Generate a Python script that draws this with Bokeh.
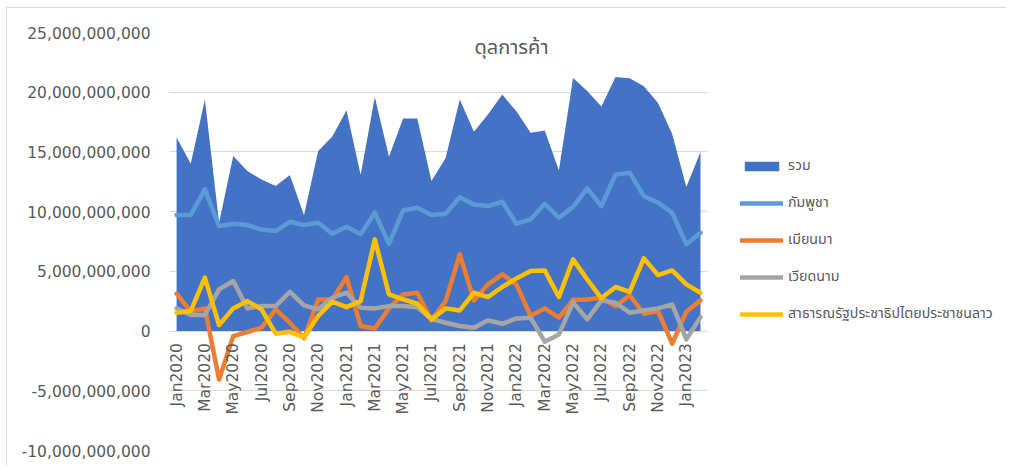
import math
from bokeh.plotting import figure
from bokeh.models import (ColumnDataSource, Range1d, FixedTicker, NumeralTickFormatter,
                          Legend, LegendItem, Label, BoxAnnotation)
from bokeh.core.properties import value
from bokeh.embed import file_html
from bokeh.resources import INLINE

# ---- data (values in billions of baht) ----
months = []
for yr in (2020, 2021, 2022, 2023):
    for m in ["Jan", "Feb", "Mar", "Apr", "May", "Jun", "Jul", "Aug", "Sep", "Oct", "Nov", "Dec"]:
        months.append(f"{m}{yr}")
months = months[:38]

total_bn = [16.2, 14.0, 19.4, 9.07, 14.66, 13.4, 12.7, 12.14, 13.07, 9.7, 15.07, 16.3,
            18.5, 13.07, 19.6, 14.6, 17.8, 17.8, 12.56, 14.5, 19.4, 16.7, 18.15, 19.8,
            18.4, 16.6, 16.8, 13.45, 21.2, 20.1, 18.8, 21.27, 21.16, 20.5, 19.1, 16.5,
            12.06, 15.0]
cambodia_bn = [9.72, 9.72, 11.87, 8.79, 8.99, 8.88, 8.5, 8.37, 9.15, 8.88, 9.07, 8.15,
               8.74, 8.1, 9.91, 7.31, 10.1, 10.33, 9.72, 9.83, 11.2, 10.6, 10.47, 10.83,
               8.99, 9.35, 10.66, 9.49, 10.4, 11.95, 10.47, 13.1, 13.26, 11.3, 10.75, 9.91,
               7.26, 8.23]
myanmar_bn = [3.13, 1.62, 1.9, -4.05, -0.42, -0.08, 0.28, 1.82, 0.7, -0.6, 2.65, 2.65,
              4.52, 0.42, 0.22, 1.9, 3.07, 3.21, 0.9, 2.5, 6.42, 2.57, 3.91, 4.75,
              3.91, 1.26, 1.9, 1.12, 2.62, 2.65, 2.79, 2.09, 3.0, 1.45, 1.68, -1.06,
              1.62, 2.57]
vietnam_bn = [1.9, 1.34, 1.34, 3.49, 4.19, 1.9, 2.09, 2.09, 3.29, 2.15, 1.82, 2.79,
              3.21, 1.95, 1.9, 2.09, 2.09, 2.0, 1.0, 0.7, 0.42, 0.28, 0.9, 0.61,
              1.06, 1.12, -0.89, -0.28, 2.4, 0.98, 2.57, 2.37, 1.54, 1.73, 1.9, 2.23,
              -0.7, 1.17]
laos_bn = [1.54, 1.68, 4.47, 0.5, 1.9, 2.51, 1.82, -0.22, -0.06, -0.53, 1.26, 2.46,
           2.0, 2.51, 7.68, 3.07, 2.65, 2.29, 0.98, 1.9, 1.73, 3.21, 2.85, 3.69,
           4.41, 5.03, 5.08, 2.85, 6.0, 4.33, 2.74, 3.69, 3.29, 6.09, 4.69, 5.08,
           3.91, 3.21]

series_names = ["รวม", "กัมพูชา", "เมียนมา", "เวียดนาม", "สาธารณรัฐประชาธิปไตยประชาชนลาว"]
title_text = "ดุลการค้า"
y_ticks = [-10e9, -5e9, 0, 5e9, 10e9, 15e9, 20e9, 25e9]

# ---- sources ----
B = 1e9
idx = list(range(len(months)))
src = ColumnDataSource(dict(
    x=idx,
    zero=[0] * len(idx),
    total=[v * B for v in total_bn],
    cambodia=[v * B for v in cambodia_bn],
    myanmar=[v * B for v in myanmar_bn],
    vietnam=[v * B for v in vietnam_bn],
    laos=[v * B for v in laos_bn],
))
lab_idx = idx[::2]
lab_src = ColumnDataSource(dict(x=lab_idx, y=[0] * len(lab_idx), t=[months[i] for i in lab_idx]))

NUM_FONT = "DejaVu Sans"
THAI_FONT = "Noto Sans Thai, Noto Sans, DejaVu Sans, sans-serif"
GREY = "#595959"

W, H = 1000, 458
FL, FT, FB = 162, 24, 16          # frame borders (px)
PX_PER_MONTH = 14.16
n = len(months)
x_end = -0.5 + (W - FL) / PX_PER_MONTH

p = figure(width=W, height=H, output_backend="svg", toolbar_location=None,
           x_range=Range1d(-0.5, x_end), y_range=Range1d(-10e9, 25e9),
           min_border_left=FL, min_border_right=0, min_border_top=FT, min_border_bottom=FB)
p.styles = {"margin-left": "6px", "margin-top": "7px",
            "border-left": "1px solid #d9d9d9", "border-top": "1px solid #d9d9d9"}
p.outline_line_color = None
p.xaxis.visible = False
p.xgrid.visible = False
p.ygrid.grid_line_color = "#d9d9d9"
p.ygrid.grid_line_width = 1
p.yaxis.ticker = FixedTicker(ticks=y_ticks)
p.yaxis.formatter = NumeralTickFormatter(format="0,0")
p.yaxis.axis_line_color = None
p.yaxis.major_tick_line_color = None
p.yaxis.minor_tick_line_color = None
p.yaxis.major_tick_out = 0
p.yaxis.major_tick_in = 0
p.yaxis.minor_tick_out = 0
p.yaxis.major_label_standoff = 19
p.yaxis.major_label_text_font = NUM_FONT
p.yaxis.major_label_text_font_size = "15.5px"
p.yaxis.major_label_text_color = GREY

# mask the grid to the right of the category area (legend zone)
p.add_layout(BoxAnnotation(left=n - 0.5, fill_color="white", fill_alpha=1,
                           line_color=None, level="underlay"))

r_area = p.varea(x="x", y1="zero", y2="total", source=src, fill_color="#4472C4")
kw = dict(line_width=4.5, line_join="round", line_cap="round")
r_c = p.line("x", "cambodia", source=src, line_color="#5B9BD5", **kw)
r_m = p.line("x", "myanmar", source=src, line_color="#ED7D31", **kw)
r_v = p.line("x", "vietnam", source=src, line_color="#A5A5A5", **kw)
r_l = p.line("x", "laos", source=src, line_color="#FFC000", **kw)

p.text(x="x", y="y", text="t", source=lab_src, angle=math.pi / 2,
       text_align="right", text_baseline="middle", y_offset=12,
       text_font=value(NUM_FONT), text_font_size="15.5px", text_color=GREY)

legend = Legend(items=[LegendItem(label=nm, renderers=[r]) for nm, r in
                       zip(series_names, [r_area, r_c, r_m, r_v, r_l])],
                location=(571, 126))
legend.glyph_width = 43
legend.glyph_height = 12
legend.label_height = 12
legend.spacing = 16
legend.padding = 0
legend.margin = 0
legend.label_standoff = 5
legend.border_line_color = None
legend.background_fill_alpha = 0
legend.label_text_font = THAI_FONT
legend.label_text_font_size = "14.2px"
legend.label_text_color = GREY
legend.label_text_baseline = "middle"
p.add_layout(legend, "center")

p.add_layout(Label(x=342, y=403, x_units="screen", y_units="screen", text=title_text,
                   text_align="center", text_baseline="middle",
                   text_font=THAI_FONT, text_font_size="20px", text_color=GREY))

open("out.html", "w").write(file_html(p, INLINE))
